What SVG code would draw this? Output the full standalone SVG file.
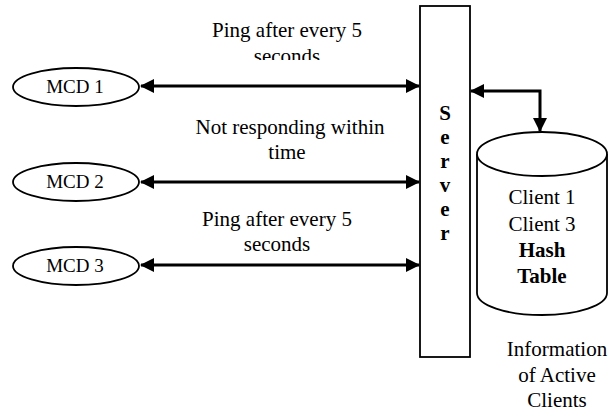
<svg xmlns="http://www.w3.org/2000/svg" width="615" height="412" viewBox="0 0 615 412">
<style>
text{font-family:"Liberation Serif","Times New Roman",serif;fill:#000}
.lbl{font-size:21px;text-anchor:middle}
.mcd{font-size:19px;text-anchor:middle}
.bold{font-weight:bold}
.shape{fill:#fff;stroke:#000;stroke-width:1.8}
.conn{fill:none;stroke:#000;stroke-width:3}
</style>
<defs>
<marker id="ah" viewBox="0 0 14 14" refX="13" refY="7" markerWidth="14" markerHeight="14" markerUnits="userSpaceOnUse" orient="auto-start-reverse">
<path d="M0,0 L14,7 L0,14 Z" fill="#000"/>
</marker>
<clipPath id="clip1"><rect x="150" y="0" width="270" height="60"/></clipPath>
</defs>
<g id="connectors">
<line class="conn" x1="141" y1="86" x2="419" y2="86" marker-start="url(#ah)" marker-end="url(#ah)"/>
<line class="conn" x1="141" y1="182" x2="419" y2="182" marker-start="url(#ah)" marker-end="url(#ah)"/>
<line class="conn" x1="141" y1="265" x2="419" y2="265" marker-start="url(#ah)" marker-end="url(#ah)"/>
<polyline class="conn" points="471,91 540,91 540,131" marker-start="url(#ah)" marker-end="url(#ah)"/>
<text class="lbl" x="287" y="37">Ping after every 5</text>
<text class="lbl" x="287" y="63" clip-path="url(#clip1)">seconds</text>
<text class="lbl" x="290" y="134">Not responding within</text>
<text class="lbl" x="287" y="159">time</text>
<text class="lbl" x="277" y="226">Ping after every 5</text>
<text class="lbl" x="277" y="251">seconds</text>
</g>
<g id="mcd1">
<ellipse class="shape" cx="76" cy="87" rx="63" ry="19"/>
<text class="mcd" x="75" y="93">MCD 1</text>
</g>
<g id="mcd2">
<ellipse class="shape" cx="76" cy="182" rx="63" ry="19"/>
<text class="mcd" x="75" y="188">MCD 2</text>
</g>
<g id="mcd3">
<ellipse class="shape" cx="76" cy="266" rx="63" ry="19"/>
<text class="mcd" x="75" y="272">MCD 3</text>
</g>
<g id="server">
<rect class="shape" x="420" y="6" width="50" height="351"/>
<text class="lbl bold" x="445" y="120">S</text>
<text class="lbl bold" x="445" y="144">e</text>
<text class="lbl bold" x="445" y="168">r</text>
<text class="lbl bold" x="445" y="192">v</text>
<text class="lbl bold" x="445" y="216">e</text>
<text class="lbl bold" x="445" y="240">r</text>
</g>
<g id="hashtable">
<path class="shape" d="M477,154 L477,293 A65,22 0 0 0 607,293 L607,154"/>
<ellipse class="shape" cx="542" cy="154" rx="65" ry="22"/>
<text class="lbl" x="542" y="204">Client 1</text>
<text class="lbl" x="542" y="231">Client 3</text>
<text class="lbl bold" x="542" y="257">Hash</text>
<text class="lbl bold" x="542" y="283">Table</text>
</g>
<g id="info">
<text class="lbl" x="557" y="356">Information</text>
<text class="lbl" x="557" y="382">of Active</text>
<text class="lbl" x="557" y="407">Clients</text>
</g>
</svg>
